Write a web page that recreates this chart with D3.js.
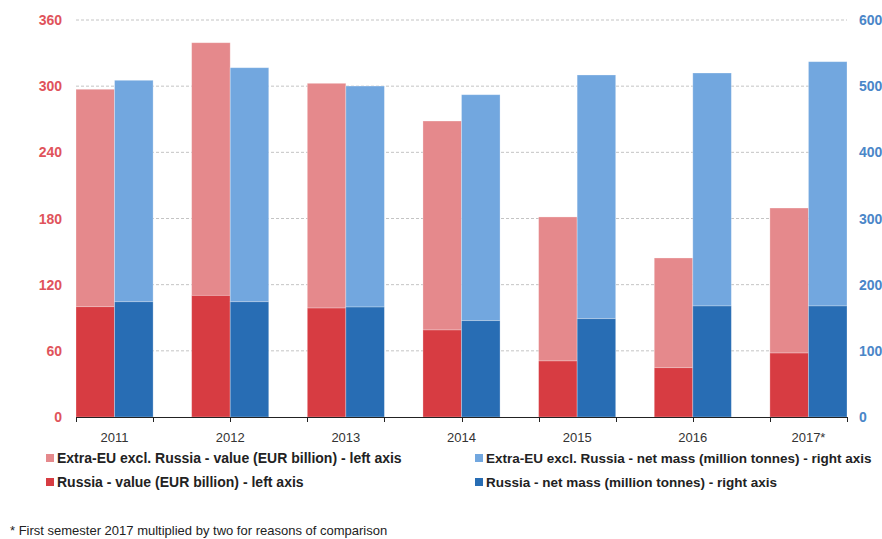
<!DOCTYPE html>
<html><head><meta charset="utf-8">
<script src="https://cdn.jsdelivr.net/npm/d3@7"></script>
<style>body{margin:0;background:#fff}svg{display:block}text{font-family:"Liberation Sans",Arial,sans-serif}</style>
</head><body><svg id="c" width="882" height="539"></svg>
<script>
const years = ["2011","2012","2013","2014","2015","2016","2017*"];
const russiaValue = [100, 110.3, 98.8, 78.9, 50.8, 44.7, 58.0];
const extraValue = [197.2, 229.1, 203.8, 189.5, 130.6, 99.5, 131.5];
const russiaMass = [174.2, 174.2, 166.2, 145.6, 148.6, 167.8, 167.8];
const extraMass = [334.7, 353.7, 334.0, 341.5, 368.3, 352.1, 369.2];
const leftTicks = [0, 60, 120, 180, 240, 300, 360];
const rightTicks = [0, 100, 200, 300, 400, 500, 600];
const legendLabels = [
  "Extra-EU excl. Russia - value (EUR billion) - left axis",
  "Extra-EU excl. Russia - net mass (million tonnes) - right axis",
  "Russia - value (EUR billion) - left axis",
  "Russia - net mass (million tonnes) - right axis"
];
const footnote = "* First semester 2017 multiplied by two for reasons of comparison";

const C = {pink:"#e5898c", red:"#d73c42", lblue:"#72a7df", dblue:"#286db4"};
const svg = d3.select("#c");
const L = 76, R = 847, T = 20, B = 417;

const x = d3.scaleBand().domain(years).range([L, R]).paddingInner(1/3).paddingOuter(0);
const yL = d3.scaleLinear().domain([0, 360]).range([B, T]);
const yR = d3.scaleLinear().domain([0, 600]).range([B, T]);
const bw = x.bandwidth() / 2;

// gridlines
svg.append("g").selectAll("line").data(leftTicks.filter(d => d > 0)).join("line")
  .attr("x1", L).attr("x2", R).attr("y1", d => yL(d)).attr("y2", d => yL(d))
  .attr("stroke", "#c4c4c4").attr("stroke-width", 1).attr("stroke-dasharray", "3,2");

// bars (stacked)
const gV = svg.append("g");
years.forEach((yr, i) => {
  gV.append("rect").attr("x", x(yr)).attr("width", bw)
    .attr("y", yL(russiaValue[i] + extraValue[i])).attr("height", yL(russiaValue[i]) - yL(russiaValue[i] + extraValue[i]))
    .attr("fill", C.pink);
  gV.append("rect").attr("x", x(yr)).attr("width", bw)
    .attr("y", yL(russiaValue[i])).attr("height", B - yL(russiaValue[i]))
    .attr("fill", C.red);
  gV.append("rect").attr("x", x(yr) + bw).attr("width", bw)
    .attr("y", yR(russiaMass[i] + extraMass[i])).attr("height", yR(russiaMass[i]) - yR(russiaMass[i] + extraMass[i]))
    .attr("fill", C.lblue);
  gV.append("rect").attr("x", x(yr) + bw).attr("width", bw)
    .attr("y", yR(russiaMass[i])).attr("height", B - yR(russiaMass[i]))
    .attr("fill", C.dblue);
});
gV.selectAll("rect").attr("stroke", "rgba(255,255,255,0.35)").attr("stroke-width", 0.8);

// left axis labels
svg.append("g").selectAll("text").data(leftTicks).join("text")
  .attr("x", 62).attr("y", d => yL(d)).attr("dy", "0.36em").attr("text-anchor", "end")
  .attr("fill", "#e0535b").attr("font-size", 14).attr("font-weight", "bold").text(d => d);
// right axis labels
svg.append("g").selectAll("text").data(rightTicks).join("text")
  .attr("x", 859).attr("y", d => yR(d)).attr("dy", "0.36em").attr("text-anchor", "start")
  .attr("fill", "#4a86c8").attr("font-size", 14).attr("font-weight", "bold").text(d => d);

// x axis
const xt = d3.scaleLinear().domain([0, 10]).range([L, R]);
const gx = svg.append("g");
gx.append("line").attr("x1", L).attr("x2", R).attr("y1", B + 0.5).attr("y2", B + 0.5).attr("stroke", "#222").attr("stroke-width", 1.2);
gx.selectAll("line.t").data(d3.range(11)).join("line").attr("class", "t")
  .attr("x1", d => Math.round(xt(d)) + 0.5).attr("x2", d => Math.round(xt(d)) + 0.5)
  .attr("y1", B).attr("y2", B + 5).attr("stroke", "#222").attr("stroke-width", 1);
gx.selectAll("text").data(years).join("text")
  .attr("x", d => x(d) + x.bandwidth() / 2).attr("y", 437).attr("dy", "0.35em").attr("text-anchor", "middle")
  .attr("fill", "#333").attr("font-size", 13).text(d => d);

// legend
const legPos = [[46, 458], [475, 458], [46, 482], [475, 482]];
const legSize = [14, 13.5, 14, 13.5];
const legCol = [C.pink, C.lblue, C.red, C.dblue];
const lg = svg.append("g");
legendLabels.forEach((t, i) => {
  lg.append("rect").attr("x", legPos[i][0]).attr("y", legPos[i][1] - 4).attr("width", 8).attr("height", 8).attr("fill", legCol[i]);
  lg.append("text").attr("x", legPos[i][0] + 11).attr("y", legPos[i][1]).attr("dy", "0.35em")
    .attr("font-size", legSize[i]).attr("font-weight", "bold").attr("fill", "#222").text(t);
});

svg.append("text").attr("x", 10).attr("y", 530).attr("dy", "0.35em").attr("font-size", 13).attr("fill", "#222").text(footnote);
</script></body></html>
